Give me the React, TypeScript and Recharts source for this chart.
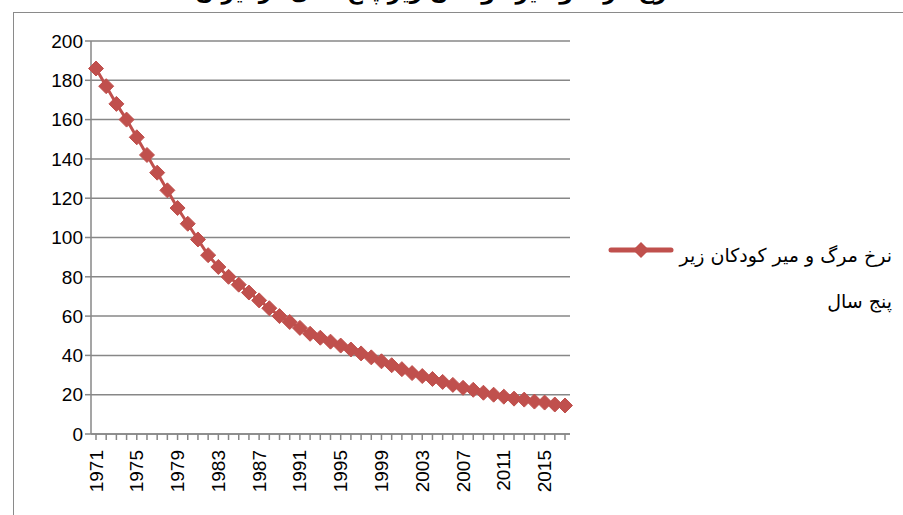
import React from 'react';
import { LineChart, Line, XAxis, YAxis, CartesianGrid } from 'recharts';

const years = [
  1971, 1972, 1973, 1974, 1975, 1976, 1977, 1978, 1979, 1980, 1981, 1982, 1983, 1984, 1985, 1986,
  1987, 1988, 1989, 1990, 1991, 1992, 1993, 1994, 1995, 1996, 1997, 1998, 1999, 2000, 2001, 2002,
  2003, 2004, 2005, 2006, 2007, 2008, 2009, 2010, 2011, 2012, 2013, 2014, 2015, 2016, 2017,
];

const mortality = [
  186, 177, 168, 160, 151, 142, 133, 124, 115, 107, 99, 91, 85, 80, 76, 72,
  68, 64, 60, 57, 54, 51, 49, 47, 45, 43, 41, 39, 37, 35, 33, 31,
  29.5, 28, 26.5, 25, 23.5, 22.5, 21, 20, 19, 18, 17.5, 16.5, 16, 15, 14.5,
];

const yTicks = [0, 20, 40, 60, 80, 100, 120, 140, 160, 180, 200];

const seriesName = 'نرخ مرگ و میر کودکان زیر پنج سال';
const titleText = 'نرخ مرگ و میر کودکان زیر پنج سال در ایران';

const RED = '#C0504D';
const GRID = '#878787';

const data = years.map((y, i) => ({ year: String(y), value: mortality[i] }));

function Diamond(props: any) {
  const { cx, cy } = props;
  if (cx == null || cy == null) return null;
  const r = 7.5;
  return (
    <polygon
      points={`${cx},${cy - r} ${cx + r},${cy} ${cx},${cy + r} ${cx - r},${cy}`}
      fill={RED}
      stroke={RED}
      strokeWidth={1}
    />
  );
}

function YearTick(props: any) {
  const { x, y, payload, index } = props;
  if (index % 4 !== 0) return null;
  return (
    <text
      x={x}
      y={y + 8}
      transform={`rotate(-90 ${x} ${y + 8})`}
      textAnchor="end"
      dominantBaseline="central"
      fontSize={19}
      fill="#000"
    >
      {payload.value}
    </text>
  );
}

export default function App() {
  return (
    <div
      style={{
        position: 'absolute',
        left: 0,
        top: 0,
        width: 903,
        height: 515,
        background: '#fff',
        overflow: 'hidden',
        fontFamily: 'Liberation Sans, Arial, sans-serif',
      }}
    >
      <div
        style={{
          position: 'absolute',
          left: 13,
          top: 12,
          width: 1000,
          height: 600,
          border: '1.5px solid #8a8a8a',
        }}
      />
      <div
        dir="rtl"
        style={{
          position: 'absolute',
          left: 236,
          width: 440,
          top: -21,
          textAlign: 'center',
          fontWeight: 'bold',
          fontSize: 22,
          fontFamily: 'DejaVu Sans, sans-serif',
          whiteSpace: 'nowrap',
        }}
      >
        {titleText}
      </div>
      <div style={{ position: 'absolute', left: 0, top: 0 }}>
        <LineChart
          width={903}
          height={515}
          data={data}
          margin={{ top: 41, right: 333, left: 31, bottom: 0 }}
        >
          <CartesianGrid vertical={false} stroke={GRID} strokeWidth={1.5} />
          <XAxis
            dataKey="year"
            interval={0}
            height={81}
            padding={{ left: 5, right: 5 }}
            tick={<YearTick />}
            tickLine={{ stroke: GRID, strokeWidth: 1.5 }}
            tickSize={6}
            axisLine={{ stroke: GRID, strokeWidth: 1.5 }}
          />
          <YAxis
            width={60}
            domain={[0, 200]}
            ticks={yTicks}
            interval={0}
            tick={{ fill: '#000', fontSize: 19 }}
            tickLine={{ stroke: GRID, strokeWidth: 1.5 }}
            tickSize={6}
            axisLine={{ stroke: GRID, strokeWidth: 1.5 }}
          />
          <Line
            type="linear"
            dataKey="value"
            stroke={RED}
            strokeWidth={3}
            dot={<Diamond />}
            activeDot={false}
            isAnimationActive={false}
          />
        </LineChart>
      </div>
      <svg style={{ position: 'absolute', left: 608, top: 240 }} width={66} height={20}>
        <line x1={3} y1={10} x2={63} y2={10} stroke={RED} strokeWidth={5} strokeLinecap="round" />
        <polygon points="33,2 41,10 33,18 25,10" fill={RED} />
      </svg>
      <div
        dir="rtl"
        style={{
          position: 'absolute',
          left: 672,
          width: 220,
          top: 232,
          fontSize: 19,
          lineHeight: '46px',
          textAlign: 'right',
          fontFamily: 'DejaVu Sans, sans-serif',
          color: '#000',
        }}
      >
        {seriesName}
      </div>
    </div>
  );
}
